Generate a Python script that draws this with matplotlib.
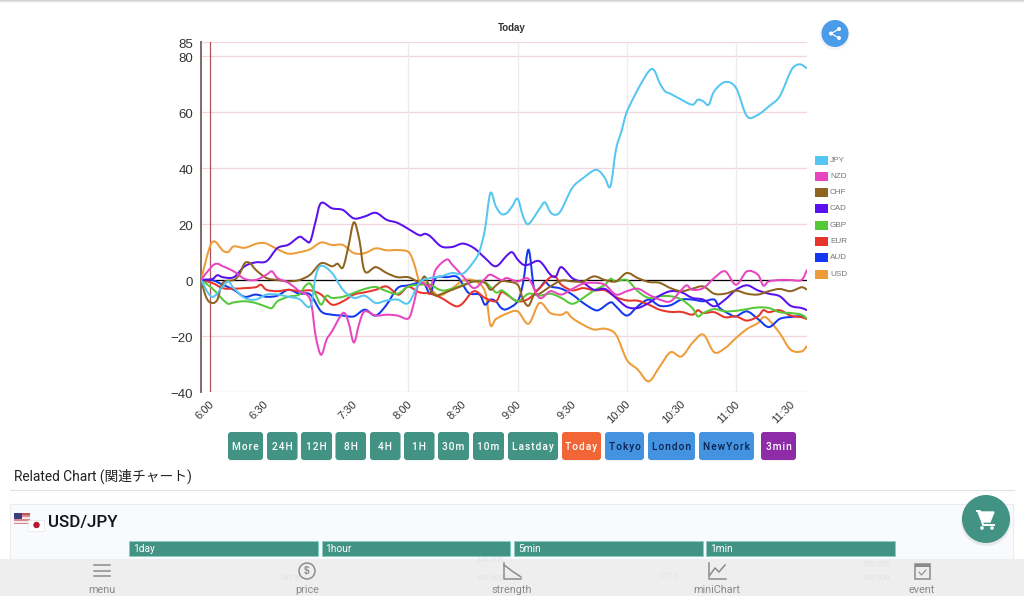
import matplotlib
matplotlib.use("Agg")
import matplotlib.pyplot as plt
from matplotlib.patches import Circle, FancyBboxPatch, PathPatch, Rectangle
from matplotlib.path import Path
from matplotlib.transforms import ScaledTranslation

# (sample index, strength) pairs, one sample every 3 minutes
JPY = [(0,0),(2,-6),(4,-2.3),(5,-0.5),(6,-2.9),(8,-6.4),(10,-7),(12,-5.2),(14,-5.2),(16,-6),(18,-6.8),(20,-9.4),(21,1.3),(22,5.1),
       (24,2.5),(26,-3.5),(28,-6.4),(30,-5.6),(32,-8.2),(34,-7.3),(36,-7),(38,-8.2),(40,-1),(42,0.7),(44,1.3),(46,2.5),(48,2.3),(50,6.7),
       (51,10.2),(52,18),(53,31),(54,26.3),(55,23.6),(56,23.9),(57,26.3),(58,29),(59,22.7),(60,20),(62,25.4),(63,27.7),(64,24.2),(65,23.3),
       (66,25),(68,32.9),(70,36.4),(72,39.2),(73,38.8),(74,36.4),(75,33.5),(76,46.5),(77,53),(78,60),(80,68),(82,74.5),(83,74.9),(84,70.4),
       (85,67.4),(86,66.5),(88,64.4),(90,62.6),(91,64.4),(92,63.8),(93,62.6),(94,67.4),(96,70.7),(98,68.6),(100,58.5),(102,59),(104,62),
       (106,65.6),(108,74.5),(109,76.7),(110,76.9),(111,75.5)]
NZD = [(0,0),(2,4.9),(3,5.8),(4,4.9),(6,3.1),(8,0.4),(10,0),(12,1.9),(13,3.1),(14,0.7),(16,-1),(18,-4),(20,-7),(21,-20),(22,-26.7),
       (23,-21.3),(24,-18.3),(26,-11.8),(27,-15),(28,-22.3),(29,-15.4),(30,-11.2),(32,-12.7),(34,-12.4),(36,-12.7),(38,-13.7),(39,-8.2),
       (40,-1),(42,-2.3),(43,3.7),(45,7.3),(46,5.5),(48,1.3),(50,-2.9),(52,0.4),(53,1.9),(55,0),(56,0.7),(58,-0.5),(60,0.4),(62,-6.4),
       (64,-4),(66,-5.2),(68,-3.2),(70,-1.3),(72,-1),(74,-1.7),(76,-5.2),(78,-4),(80,-3.1),(82,-5.2),(84,-7),(86,-7.6),(88,-3.5),(89,-1.9),
       (90,-3.5),(92,-2.9),(94,0.7),(96,3.1),(98,-1.7),(100,3.1),(102,1.9),(103,-2),(104,-0.5),(106,0),(108,0),(110,0),(111,3.7)]
CHF = [(0,0),(1,-6.4),(2,-8.2),(3,-7),(4,-1),(6,0),(7,1.9),(8,6),(9,6),(10,3.7),(12,0.7),(14,0),(16,-0.5),(18,0),(20,1.9),(22,6),(24,4.9),
       (25,5.8),(26,4.5),(27,12),(28,20.6),(29,14.4),(30,3.1),(32,4.6),(34,2.5),(36,1),(38,1),(40,-0.7),(41,1.2),(42,-3.5),(43,-5.5),(44,-5),
       (46,-3.5),(48,-2),(50,-0.5),(52,-1),(53,-3.5),(54,-2),(55,-0.5),(56,-0.5),(58,-1.7),(59,-7),(60,-9.2),(61,-5.3),(62,-4.9),(64,-2.3),
       (66,-0.2),(68,-0.5),(70,-0.5),(72,1.3),(74,0),(76,-0.5),(78,2.5),(80,0.7),(82,-0.7),(84,-1),(86,-2.9),(88,-4),(90,-3.1),(92,-2.3),
       (94,-4.9),(96,-4.9),(98,-3.8),(100,-4.9),(102,-5.2),(104,-4),(106,-3.2),(108,-4),(110,-2.6),(111,-3.5)]
CAD = [(0,0),(2,0.3),(3,1.7),(4,1),(6,1),(8,4.9),(10,6.3),(12,6.7),(14,11.4),(16,12.6),(18,15.4),(19,14.4),(20,13.8),(21,21),(22,27.5),
       (24,25.6),(26,25),(28,22),(30,22.7),(32,24),(34,21.5),(36,20.4),(38,18.2),(40,16),(41,16.5),(42,15.6),(44,12),(46,11.8),(48,13),
       (50,11.4),(52,7.9),(54,4.9),(56,8.7),(57,9.9),(58,7.3),(59,5.5),(60,5.5),(62,6.7),(64,1.9),(65,1.3),(66,4.6),(68,0.7),(70,-1),(72,-3.5),
       (74,-3.2),(76,-6.4),(78,-9.6),(80,-10),(82,-8.2),(84,-5.6),(86,-4),(88,-4.4),(90,-6.4),(92,-7),(94,-9.4),(96,-7),(98,-3.5),(100,-1.9),
       (102,-3.7),(104,-4.9),(106,-5.8),(108,-9.2),(110,-10),(111,-10.8)]
GBP = [(0,0),(2,-2.9),(4,-7),(5,-8.5),(6,-8),(8,-7.6),(10,-8.2),(12,-9.6),(13,-10),(14,-7.6),(16,-6),(18,-5.2),(19,-2.3),(20,-1.3),(21,-5.2),
       (22,-8.8),(23,-5.6),(24,-6.4),(26,-6),(28,-4.6),(30,-3.2),(32,-2.5),(34,-4),(36,-4.9),(38,-2.3),(40,-1.7),(42,-1.7),(44,-3.7),(46,-3.1),
       (48,-1.7),(50,-0.5),(52,-0.7),(54,-4.4),(55,-3.7),(56,-4.9),(58,-7.6),(60,-4.9),(62,-5.6),(64,-4.9),(66,-6.4),(68,-8.5),(70,-6.4),
       (72,-3.7),(74,-1.7),(75,0.4),(76,-0.5),(78,0),(80,-4),(82,-6.4),(84,-5.8),(86,-5.8),(88,-7),(90,-10),(91,-13),(92,-11.8),(94,-10.4),
       (96,-11.2),(98,-11),(100,-10.4),(102,-9.8),(104,-10),(106,-11.5),(108,-11.8),(110,-12.4),(111,-13.9)]
EUR = [(0,0),(2,-1),(4,-2.9),(6,-3.1),(8,-2.9),(10,-2.6),(11,-1.7),(12,-3.5),(14,-4),(16,-3.5),(18,-4),(20,-3.7),(22,-5.2),(24,-8.8),(26,-7.6),
       (28,-5.2),(30,-4.4),(32,-3.5),(34,-2.3),(36,-5.2),(37,-4),(38,-2.3),(40,-4.4),(42,-4.9),(44,-6.4),(46,-8.8),(47,-9.4),(48,-8.2),(50,-4),
       (52,-6.4),(54,-7.6),(55,-4.4),(56,-5.2),(58,-7.6),(60,-6.7),(62,-2.9),(64,1),(65,1),(66,-1.7),(68,-3.7),(70,-2.9),(72,-3.7),(74,-3.7),
       (76,-6.1),(78,-7.3),(80,-7.4),(82,-8.8),(84,-10.6),(86,-11.4),(88,-11.4),(90,-12.4),(91,-10.8),(92,-11.8),(94,-11.5),(96,-13.3),(98,-13),
       (100,-14.5),(102,-13),(103,-10.8),(104,-11.5),(106,-10.8),(108,-12.7),(110,-13.3),(111,-14)]
AUD = [(0,0),(2,0),(4,-1.7),(6,-3.5),(8,-6),(10,-5.2),(12,-6),(14,-5.6),(16,-3.5),(18,-4.9),(20,-5.2),(22,-11.2),(24,-12.4),(26,-12.7),(28,-13),
       (30,-10.6),(32,-12.7),(34,-8.8),(36,-2.9),(38,-1.9),(40,-1),(41,-1.7),(42,-4.9),(43,0.7),(45,1),(47,1),(49,-4.6),(51,-5.2),(52,-8.8),
       (53,-7),(54,-7.6),(55,-10),(56,-10.4),(58,-7.6),(59,-1),(60,10.8),(61,-2.9),(62,-2.9),(63,-0.7),(64,-2.3),(66,-3.1),(68,-5.2),(70,-8.2),
       (72,-10.6),(73,-10.6),(75,-8),(76,-9.4),(78,-12.7),(80,-9.4),(82,-7),(84,-9.2),(86,-9),(88,-7),(90,-7),(92,-7.6),(94,-7),(95,-10),
       (97,-12.4),(98,-13),(100,-11.2),(102,-13.9),(104,-16.8),(106,-13.9),(108,-13.2),(110,-13),(111,-13.9)]
USD = [(0,0),(2,13.4),(4,10.5),(5,10),(6,12),(8,11.5),(10,12.9),(11,13.2),(12,13),(14,11),(16,9.4),(18,9.9),(20,11),(22,13.4),(24,12.5),(26,12.5),
       (28,9.6),(30,9.6),(32,11.3),(34,10.6),(36,10.7),(38,10),(39,6),(40,-0.5),(41,-1),(43,-5),(44,-5.5),(46,-3),(48,-0.2),(50,-0.2),(52,-4),
       (53,-16),(54,-14),(56,-12),(58,-11.2),(60,-15.6),(62,-8.2),(64,-11.8),(66,-12.4),(67,-11.5),(68,-13.6),(70,-16),(72,-17.7),(74,-17.4),
       (76,-19.5),(78,-28.5),(80,-32),(82,-36.2),(84,-31),(86,-25.8),(88,-27.3),(90,-22.5),(92,-19.5),(94,-25.8),(96,-24.3),(98,-20.7),
       (100,-17.5),(102,-15.4),(103,-13.3),(104,-14.2),(106,-19),(108,-24.9),(110,-25.5),(111,-23.5)]

names = ["JPY", "NZD", "CHF", "CAD", "GBP", "EUR", "AUD", "USD"]
series = [JPY, NZD, CHF, CAD, GBP, EUR, AUD, USD]
colors = ["#55c6f2", "#e845c1", "#8f6420", "#5a10ee", "#55c838", "#e8352a", "#1438f0", "#ee9c38"]

time_labels = ["6:00", "6:30", "7:30", "8:00", "8:30", "9:00", "9:30", "10:00", "10:30", "11:00", "11:30"]
time_pos = [1.7, 11.6, 28, 38, 48, 58, 68, 78, 88, 98, 108]
grid_pos = [38, 58, 78, 98]
y_ticks = [-40, -20, 0, 20, 40, 60, 80, 85]

buttons = ["More", "24H", "12H", "8H", "4H", "1H", "30m", "10m", "Lastday", "Today", "Tokyo", "London", "NewYork", "3min"]
button_left = [228, 267, 301, 335.5, 370, 404, 438, 473, 508, 562, 605, 648, 699, 761]
button_right = [263, 297.5, 332, 366, 400.5, 434.5, 469, 504, 558, 601, 644, 695, 754, 796]
tabs = ["1day", "1hour", "5min", "1min"]
tab_left = [129, 321.5, 514, 706]
nav = ["menu", "price", "strength", "miniChart", "event"]
nav_x = [102, 307, 512, 717, 922]

TEAL = "#439384"
W, H = 1024, 596


def smooth_path(pairs):
    # catmull-rom through the samples, same look as the chart's tension option
    n = len(pairs)
    verts = [pairs[0]]
    codes = [Path.MOVETO]
    for i in range(n - 1):
        p0 = pairs[max(i - 1, 0)]
        p1 = pairs[i]
        p2 = pairs[i + 1]
        p3 = pairs[min(i + 2, n - 1)]
        c1 = (p1[0] + (p2[0] - p0[0]) / 6, p1[1] + (p2[1] - p0[1]) / 6)
        c2 = (p2[0] - (p3[0] - p1[0]) / 6, p2[1] - (p3[1] - p1[1]) / 6)
        verts += [c1, c2, p2]
        codes += [Path.CURVE4] * 3
    return Path(verts, codes)


plt.rcParams["font.family"] = ["Liberation Sans", "DejaVu Sans"]
fig = plt.figure(figsize=(W / 100, H / 100), dpi=100, facecolor="white")

# page layer, in pixels
page = fig.add_axes([0, 0, 1, 1], zorder=1)
page.set_xlim(0, W)
page.set_ylim(H, 0)
page.axis("off")

# chart layer
ax = fig.add_axes([201 / W, 1 - 392 / H, 606 / W, 350 / H], zorder=2)
ax.patch.set_alpha(0)
ax.set_xlim(0, 111)
ax.set_ylim(-40, 85)
ax.set_yticks(y_ticks)
ax.set_xticks(time_pos)
ax.set_xticklabels(time_labels, rotation=45, ha="right", rotation_mode="anchor", fontsize=8, color="#333333")
ax.tick_params(axis="both", length=0)
ax.tick_params(axis="y", pad=5.5, labelsize=9.5, labelcolor="#333333")
ax.tick_params(axis="x", pad=5)
nudge = ScaledTranslation(-1.5 / 100, 0, fig.dpi_scale_trans)
for lab in ax.get_xticklabels():
    lab.set_transform(lab.get_transform() + nudge)
nudge_y = ScaledTranslation(0, -1 / 100, fig.dpi_scale_trans)
for lab in ax.get_yticklabels():
    lab.set_transform(lab.get_transform() + nudge_y)
for s in ["top", "right", "bottom"]:
    ax.spines[s].set_visible(False)
ax.spines["left"].set_color("#7d6f66")
ax.spines["left"].set_linewidth(1.4)
for v in y_ticks:
    c = "#dddddd" if v == -40 else "#f1d6dc"
    ax.axhline(v, color=c, lw=0.9, zorder=1)
for g in grid_pos:
    ax.axvline(g, color="#eeeaee", lw=0.9, zorder=1)
ax.axvline(time_pos[0], color="#b2555a", lw=0.9, zorder=1)
ax.axhline(0, color="black", lw=0.9, zorder=2)

for i in range(len(series) - 1, -1, -1):
    ax.add_patch(PathPatch(smooth_path(series[i]), fc="none", ec=colors[i], lw=1.45, zorder=3 + len(series) - i))

page.text(512, 28, "Today", ha="center", va="center", fontsize=7, fontweight="bold", color="#333333")

# legend
for i in range(len(names)):
    y = 160 + 16.3 * i
    page.add_patch(Rectangle((815, y - 4.5), 12.5, 9, fc=colors[i], ec="none"))
    page.text(830, y, names[i], va="center", fontsize=5.9, color="#777777")

# top shadow
for i, c in enumerate(["#d0d0d0", "#e6e6e6", "#f4f4f4"]):
    page.add_patch(Rectangle((0, i), W, 1, fc=c, ec="none"))

# share button
page.add_patch(Circle((835, 35), 15, fc="#e8e8e8", ec="none", alpha=0.5))
page.add_patch(Circle((835, 33.5), 13.5, fc="#4a9be8", ec="none"))
page.plot([839, 831, 839], [29, 33.5, 38], color="white", lw=0.9)
for sx, sy in [(839, 29), (831, 33.5), (839, 38)]:
    page.add_patch(Circle((sx, sy), 2, fc="white", ec="none"))

# range buttons
for i in range(len(buttons)):
    name = buttons[i]
    fc, tc = TEAL, "white"
    if name == "Today":
        fc = "#f26537"
    elif name in ["Tokyo", "London", "NewYork"]:
        fc, tc = "#4393e0", "#0c2350"
    elif name == "3min":
        fc = "#8e2ca8"
    l, r = button_left[i], button_right[i]
    page.add_patch(FancyBboxPatch((l + 2, 434.5), r - l - 4, 24, boxstyle="round,pad=0,rounding_size=2",
                                  mutation_aspect=1, fc="#d9d9d9", ec="#d9d9d9", lw=3, alpha=0.5))
    page.add_patch(FancyBboxPatch((l + 2, 434), r - l - 4, 24, boxstyle="round,pad=2,rounding_size=3",
                                  fc=fc, ec="none"))
    # the buttons have letter spacing, hair spaces get close to it
    page.text((l + r) / 2, 446.5, "\u200a".join(name), ha="center", va="center", fontsize=7.3, fontweight="medium",
              color=tc, family=["Roboto", "DejaVu Sans"])

page.text(14, 476, "Related Chart (関連チャート)", va="center", fontsize=9.9, color="#222222",
          family=["Roboto", "Noto Sans CJK JP", "DejaVu Sans"])
page.plot([10, 1014], [490, 490], color="#e2e2e2", lw=0.8)

# card
page.add_patch(Rectangle((10, 504), 1003, 92, fc="#f9fafd", ec="#ececec", lw=0.8))
page.add_patch(Rectangle((14, 513), 16, 11, fc="#d8888f", ec="none"))
page.add_patch(Rectangle((14, 513), 16, 2, fc="#c8505c", ec="none"))
page.add_patch(Rectangle((14, 517), 16, 1.5, fc="#f4e8ea", ec="none"))
page.add_patch(Rectangle((14, 521), 16, 1.5, fc="#f4e8ea", ec="none"))
page.add_patch(Rectangle((14, 513), 8, 6, fc="#3c3f7c", ec="none"))
page.add_patch(Rectangle((28, 520), 16, 11, fc="white", ec="#e4e4e4", lw=0.5))
page.add_patch(Circle((36.5, 525), 3.2, fc="#bc1535", ec="none"))
page.text(48, 522, "USD/JPY", va="center", fontsize=12.2, fontweight="medium", color="#15151f",
          family=["Roboto", "DejaVu Sans"])
for i in range(len(tabs)):
    page.add_patch(Rectangle((tab_left[i], 541), 188.5, 15, fc=TEAL, ec="#7fd0c4", lw=0.5))
    page.text(tab_left[i] + 4, 548.5, tabs[i], va="center", fontsize=7.3, color="white",
              family=["Roboto", "DejaVu Sans"])

# cart button
page.add_patch(Circle((986, 521), 25, fc="#d8d8d8", ec="none", alpha=0.5))
page.add_patch(Circle((986, 519), 24, fc=TEAL, ec="none"))
page.fill([978, 981, 994, 990, 982], [512, 512, 512, 522, 522], color="white")
page.plot([977, 980, 983, 994], [511, 511, 525, 525], color="white", lw=1.4)
page.add_patch(Circle((982, 528), 1.8, fc="white", ec="none"))
page.add_patch(Circle((992, 528), 1.8, fc="white", ec="none"))

# bottom nav, the chart thumbnails show faintly through it
page.add_patch(Rectangle((0, 559), W, 37, fc="#eeeeee", ec="none", alpha=0.97, zorder=5))
for tx, ty, label in [(490, 561, "140.000"), (490, 578, "139.500"), (290, 578, "147.5"), (668, 576, "177.3"), (876, 564, "126.950"), (876, 579, "126.900")]:
    page.text(tx, ty, label, ha="center", va="center", fontsize=5.5, color="#e2e2e2", zorder=6)
for i in range(len(nav)):
    page.text(nav_x[i], 590, nav[i], ha="center", va="center", fontsize=7.8, color="#8a8a8a",
              family=["Roboto", "DejaVu Sans"], zorder=7)
ICON = "#8c8c8c"
for y in [565, 570.5, 576]:
    page.plot([94, 110], [y, y], color=ICON, lw=1.1, zorder=7)
page.add_patch(Circle((307, 571), 8, fc="none", ec=ICON, lw=1.1, zorder=7))
page.text(307, 571, "$", ha="center", va="center", fontsize=7, fontweight="bold", color=ICON, zorder=7)
page.plot([504, 504, 521], [563, 579, 579], color=ICON, lw=1.1, zorder=7)
page.plot([504, 512, 521], [565, 571, 577], color=ICON, lw=1.1, zorder=7)
page.plot([709, 709, 726], [563, 579, 579], color=ICON, lw=1.1, zorder=7)
page.plot([710, 715, 719, 725], [575, 568, 572, 565], color=ICON, lw=1.1, zorder=7)
page.add_patch(Rectangle((915, 564), 15, 15, fc="none", ec=ICON, lw=1.1, zorder=7))
page.add_patch(Rectangle((915, 564), 15, 3, fc=ICON, ec="none", zorder=7))
page.plot([919, 921.5, 926], [572, 575, 570], color=ICON, lw=0.8, zorder=7)

fig.savefig("out.png", dpi=100)
